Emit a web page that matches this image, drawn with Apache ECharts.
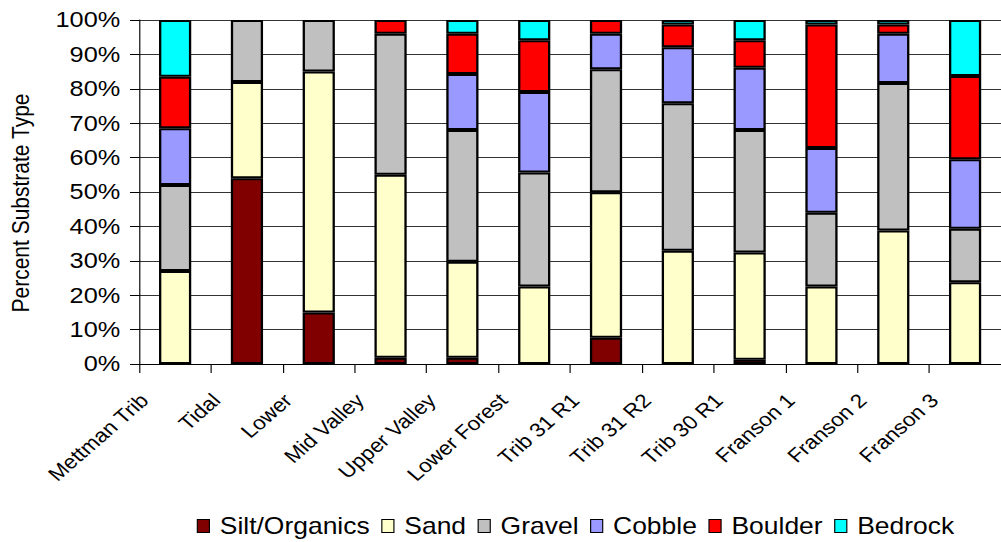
<!DOCTYPE html>
<html>
<head>
<meta charset="utf-8">
<script src="https://cdn.jsdelivr.net/npm/echarts@6/dist/echarts.min.js"></script>
<style>
  html, body { margin: 0; padding: 0; background: #fff; overflow: hidden; }
  /* chart is laid out 870px wide and stretched horizontally to 1001px */
  #chart { width: 870px; height: 542px; transform: scaleX(1.15057); transform-origin: 0 0; }
</style>
</head>
<body>
<div id="chart"></div>
<script>
const categories = ['Mettman Trib', 'Tidal', 'Lower', 'Mid Valley', 'Upper Valley', 'Lower Forest',
  'Trib 31 R1', 'Trib 31 R2', 'Trib 30 R1', 'Franson 1', 'Franson 2', 'Franson 3'];

// percent of each substrate type per reach
const siltOrganics = [0, 54, 15, 1.8, 1.8, 0, 7.6, 0, 1.2, 0, 0, 0];
const sand         = [27, 28, 70, 53.2, 27.9, 22.5, 42.3, 32.9, 31.2, 22.5, 38.8, 23.8];
const gravel       = [25, 18, 15, 41, 38.3, 33.2, 35.8, 42.9, 35.6, 21.5, 42.9, 15.5];
const cobble       = [16.5, 0, 0, 0, 16.3, 23.4, 10.3, 16.3, 18.1, 18.8, 14.3, 20.2];
const boulder      = [15, 0, 0, 4, 11.7, 15, 4, 6.6, 8, 35.9, 2.7, 24.2];
const bedrock      = [16.5, 0, 0, 0, 4, 5.9, 0, 1.3, 5.9, 1.3, 1.3, 16.3];

const seriesNames = ['Silt/Organics', 'Sand', 'Gravel', 'Cobble', 'Boulder', 'Bedrock'];
const seriesValues = [siltOrganics, sand, gravel, cobble, boulder, bedrock];
const seriesColors = ['#800000', '#FFFFCC', '#C0C0C0', '#9999FF', '#FF0000', '#00FFFF'];

const font = '"Liberation Sans", Arial, sans-serif';

const chart = echarts.init(document.getElementById('chart'), null, { renderer: 'svg' });

chart.setOption({
  animation: false,
  backgroundColor: '#fff',
  grid: { left: 119, right: 0, top: 20, bottom: 178, containLabel: false },
  legend: {
    data: seriesNames,
    left: 171,
    top: 513,
    padding: 0,
    itemWidth: 10.5,
    itemHeight: 13,
    itemGap: 10,
    icon: 'rect',
    itemStyle: { borderColor: '#000', borderWidth: 1 },
    textStyle: { fontFamily: font, fontSize: 23, color: '#000', padding: [0, 0, 0, 4], lineHeight: 26 }
  },
  xAxis: {
    type: 'category',
    data: categories,
    axisLine: { lineStyle: { color: '#000', width: 1 } },
    axisTick: { show: true, length: 9, alignWithLabel: false, lineStyle: { color: '#000' } },
    axisLabel: {
      interval: 0,
      rotate: 45,
      margin: 6,
      padding: [0, 38, 0, 0],
      fontFamily: font,
      fontSize: 19.5,
      color: '#000'
    },
    splitLine: { show: false }
  },
  yAxis: {
    type: 'value',
    min: 0,
    max: 100,
    interval: 10,
    name: 'Percent Substrate Type',
    nameLocation: 'middle',
    nameGap: 92,
    nameRotate: 90,
    nameTextStyle: { fontFamily: font, fontSize: 21, color: '#000', padding: [0, 22, 0, 0] },
    axisLine: { show: true, lineStyle: { color: '#000', width: 1 } },
    axisTick: { show: true, length: 8, lineStyle: { color: '#000' } },
    axisLabel: { formatter: '{value}%', margin: 16.5, fontFamily: font, fontSize: 22, color: '#000' },
    splitLine: { show: true, lineStyle: { color: '#333', width: 1 } }
  },
  series: seriesNames.map((name, i) => ({
    name: name,
    type: 'bar',
    stack: 'substrate',
    barWidth: 28,
    itemStyle: { color: seriesColors[i], borderColor: '#000', borderWidth: 2 },
    emphasis: { disabled: true },
    data: seriesValues[i].map(v => (v === 0 ? '-' : v))
  }))
});
</script>
</body>
</html>
